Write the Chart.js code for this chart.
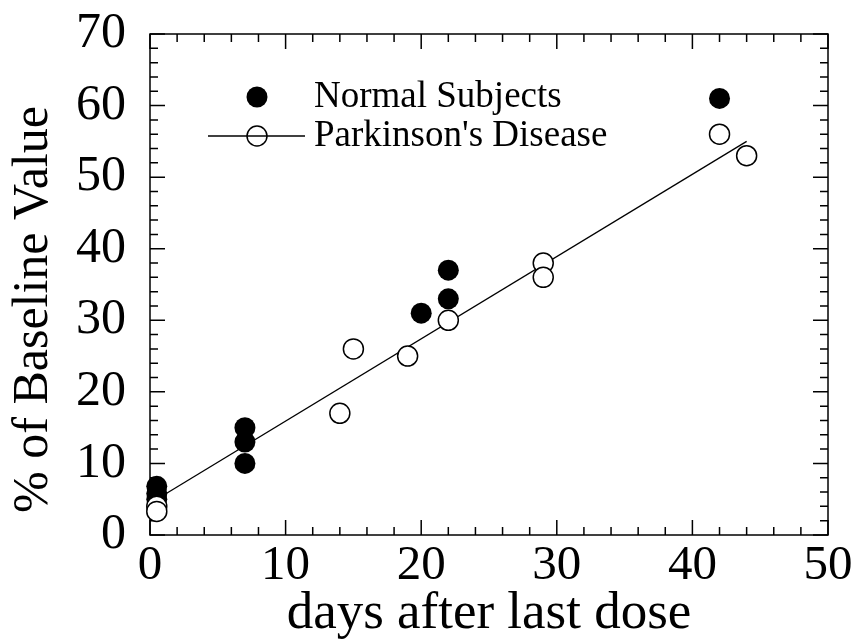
<!DOCTYPE html>
<html lang="en">
<head>
<meta charset="UTF-8">
<title>Baseline value</title>
<style>
  html, body { margin: 0; padding: 0; background: #fff; }
  .wrap { width: 856px; height: 641px; }
</style>
</head>
<body>
<div class="wrap"><canvas id="myChart" width="856" height="641"></canvas></div>
<script src="https://cdn.jsdelivr.net/npm/chart.js"></script>
<script>
// values
var normalX = [0.5, 0.5, 0.5, 7, 7, 7, 20, 22, 22, 42];
var normalY = [6.8, 5.8, 5, 15, 13, 10, 31, 33, 37, 61];
var parkX = [0.5, 0.5, 14, 15, 19, 22, 29, 29, 42, 44];
var parkY = [4, 3.3, 17, 26, 25, 30, 38, 36, 56, 53];
var fitX = [0.5, 44];
var fitY = [5.0, 55.0];
var xTicks = [0, 10, 20, 30, 40, 50];
var yTicks = [0, 10, 20, 30, 40, 50, 60, 70];

var serif = "'Liberation Serif', 'Times New Roman', serif";

function pts(xs, ys) {
    var out = [];
    for (var i = 0; i < xs.length; i++) out.push({ x: xs[i], y: ys[i] });
    return out;
}

// frame with inward ticks on all four sides, plus the legend
var frame = {
    id: 'frame',
    beforeDatasetsDraw: function (chart) {
        var c = chart.ctx, a = chart.chartArea;
        var xs = chart.scales.x, ys = chart.scales.y;
        c.save();
        c.strokeStyle = '#000';
        c.lineWidth = 1.5;
        c.strokeRect(a.left, a.top, a.right - a.left, a.bottom - a.top);
        c.beginPath();
        for (var v = 0; v <= 50; v += 2) {
            var px = xs.getPixelForValue(v);
            var len = (v % 10 === 0) ? 15 : 8;
            c.moveTo(px, a.bottom); c.lineTo(px, a.bottom - len);
            c.moveTo(px, a.top); c.lineTo(px, a.top + len);
        }
        for (var w = 0; w <= 70; w += 2) {
            var py = ys.getPixelForValue(w);
            var l2 = (w % 10 === 0) ? 15 : 8;
            c.moveTo(a.left, py); c.lineTo(a.left + l2, py);
            c.moveTo(a.right, py); c.lineTo(a.right - l2, py);
        }
        c.stroke();
        c.restore();
    },
    afterDraw: function (chart) {
        var c = chart.ctx;
        c.save();
        c.fillStyle = '#000';
        c.strokeStyle = '#000';
        c.beginPath();
        c.arc(257, 97, 10.5, 0, Math.PI * 2);
        c.fill();
        c.lineWidth = 1.3;
        c.beginPath();
        c.moveTo(208, 136); c.lineTo(305, 136);
        c.stroke();
        c.lineWidth = 1.5;
        c.beginPath();
        c.arc(257, 136, 10, 0, Math.PI * 2);
        c.stroke();
        c.font = '37px ' + serif;
        c.textBaseline = 'middle';
        c.fillText('Normal Subjects', 314, 97);
        c.fillText("Parkinson's Disease", 314, 136);
        c.restore();
    }
};

const ctx = document.getElementById('myChart');

new Chart(ctx, {
    type: 'scatter',
    data: {
        datasets: [{
            label: 'fit',
            type: 'line',
            data: pts(fitX, fitY),
            borderColor: '#000',
            borderWidth: 1.3,
            pointRadius: 0,
            fill: false,
            order: 3,
            clip: false
        }, {
            label: 'Normal Subjects',
            data: pts(normalX, normalY),
            backgroundColor: '#000',
            borderColor: '#000',
            borderWidth: 0,
            pointRadius: 10.5,
            order: 2,
            clip: false
        }, {
            label: "Parkinson's Disease",
            data: pts(parkX, parkY),
            backgroundColor: '#fff',
            borderColor: '#000',
            borderWidth: 1.5,
            pointRadius: 10,
            order: 1,
            clip: false
        }]
    },
    options: {
        responsive: false,
        animation: false,
        layout: { padding: { left: 0, right: 28, top: 34, bottom: 0 } },
        plugins: {
            legend: { display: false },
            tooltip: { enabled: false }
        },
        scales: {
            x: {
                type: 'linear',
                min: 0, max: 50,
                afterBuildTicks: function (s) { s.ticks = xTicks.map(function (v) { return { value: v }; }); },
                afterFit: function (s) { s.height = 106; s.paddingLeft = 0; s.paddingRight = 0; },
                grid: { display: false, drawTicks: false },
                border: { display: false },
                ticks: { color: '#000', padding: 2, maxRotation: 0, font: { family: serif, size: 49 } },
                title: {
                    display: true,
                    text: 'days after last dose',
                    color: '#000',
                    padding: { top: 0, bottom: 0 },
                    font: { family: serif, size: 53, lineHeight: 1.0 }
                }
            },
            y: {
                type: 'linear',
                min: 0, max: 70,
                afterBuildTicks: function (s) { s.ticks = yTicks.map(function (v) { return { value: v }; }); },
                afterFit: function (s) { s.width = 150; s.paddingTop = 0; s.paddingBottom = 0; },
                grid: { display: false, drawTicks: false },
                border: { display: false },
                ticks: { color: '#000', padding: 24, font: { family: serif, size: 50 } },
                title: {
                    display: true,
                    text: '% of Baseline Value\u00a0\u00a0\u00a0\u00a0',
                    color: '#000',
                    padding: { top: 4, bottom: 0 },
                    font: { family: serif, size: 50 }
                }
            }
        }
    },
    plugins: [frame]
});
</script>
</body>
</html>
